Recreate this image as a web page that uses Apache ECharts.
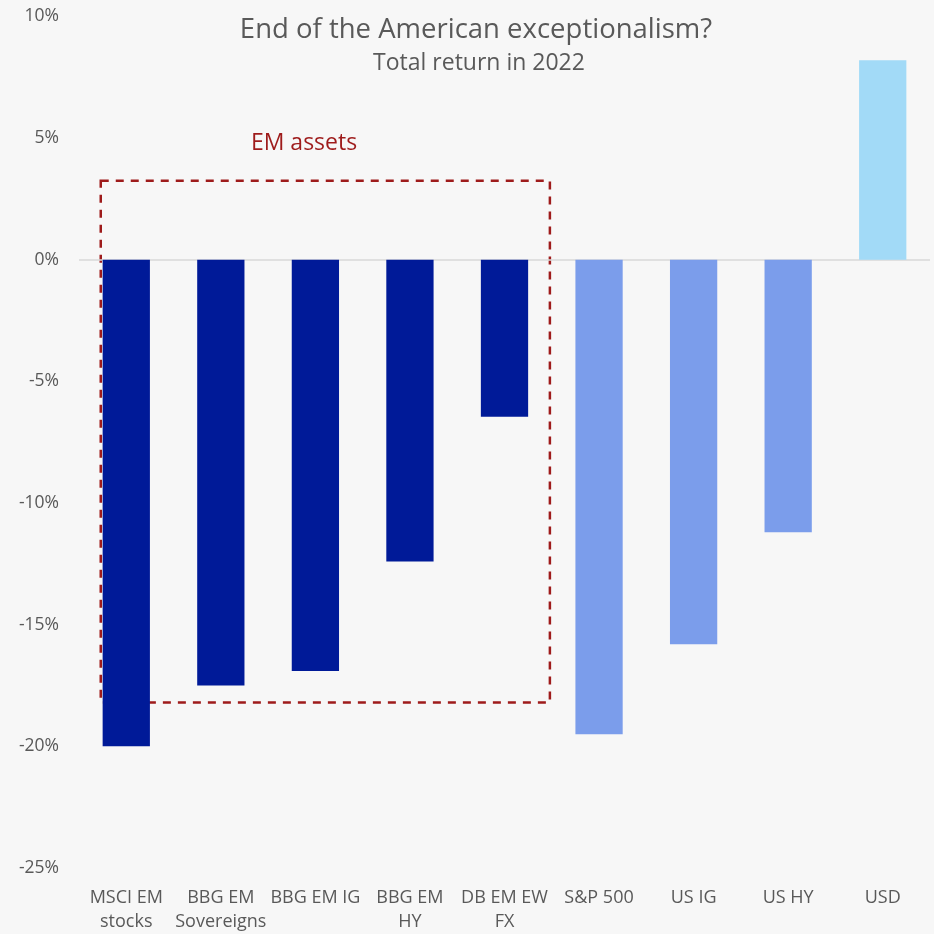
<!DOCTYPE html>
<html>
<head>
<meta charset="utf-8">
<script src="https://cdn.jsdelivr.net/npm/echarts@6/dist/echarts.min.js"></script>
<style>
  html, body { margin: 0; padding: 0; background: #f7f7f7; }
  #main { width: 934px; height: 934px; }
</style>
</head>
<body>
<div id="main"></div>
<script>
var categories = ['MSCI EM\nstocks', 'BBG EM\nSovereigns', 'BBG EM IG', 'BBG EM\nHY', 'DB EM EW\nFX', 'S&P 500', 'US IG', 'US HY', 'USD'];
var returns2022 = [-20.0, -17.5, -16.9, -12.4, -6.45, -19.5, -15.8, -11.2, 8.2];
var groups = ['em', 'em', 'em', 'em', 'em', 'us', 'us', 'us', 'usd'];
var yTicks = [-25, 10, 5]; // min, max, step

var groupColors = { em: '#001a98', us: '#7b9deb', usd: '#a2daf7' };
var textColor = '#595959';
var boxColor = '#9e1b1b';
var font = '"Open Sans", "Liberation Sans", sans-serif';

var dom = document.getElementById('main');
var myChart = echarts.init(dom, null, { width: 934, height: 934, renderer: 'canvas' });

var option = {
  backgroundColor: '#f7f7f7',
  animation: false,
  textStyle: { fontFamily: font },
  grid: { left: 79, right: 4, top: 16.5, bottom: 65, containLabel: false },
  xAxis: {
    type: 'category',
    data: categories,
    axisLine: { show: false, onZero: false },
    axisTick: { show: false },
    splitLine: { show: false },
    axisLabel: {
      color: textColor, fontSize: 18, lineHeight: 24, margin: 18,
      interval: 0, fontFamily: font
    }
  },
  yAxis: {
    type: 'value',
    min: yTicks[0], max: yTicks[1], interval: yTicks[2],
    axisLine: { show: false },
    axisTick: { show: false },
    splitLine: { show: false },
    axisLabel: {
      color: textColor, fontSize: 17.5, margin: 20, fontFamily: font,
      formatter: '{value}%'
    }
  },
  series: [{
    type: 'bar',
    barWidth: '50%',
    z: 3,
    data: returns2022.map(function (v, i) {
      return { value: v, itemStyle: { color: groupColors[groups[i]] } };
    }),
    markLine: {
      silent: true,
      symbol: 'none',
      label: { show: false },
      lineStyle: { color: '#d9d9d9', width: 1.5, type: 'solid' },
      z: 1,
      data: [{ yAxis: 0 }]
    }
  }]
};

myChart.setOption(option);

// annotation box around the EM assets, placed from axis coordinates
function drawAnnotations() {
  var c0 = myChart.convertToPixel({ xAxisIndex: 0 }, 0);
  var c1 = myChart.convertToPixel({ xAxisIndex: 0 }, 1);
  var c2 = myChart.convertToPixel({ xAxisIndex: 0 }, 2);
  var c4 = myChart.convertToPixel({ xAxisIndex: 0 }, 4);
  var band = c1 - c0;
  var yTop = myChart.convertToPixel({ yAxisIndex: 0 }, 3.25);
  var yBot = myChart.convertToPixel({ yAxisIndex: 0 }, -18.2);
  var yLbl = myChart.convertToPixel({ yAxisIndex: 0 }, 4.8);
  var x0 = c0 - 0.27 * band;
  var x1 = c4 + 0.48 * band;

  myChart.setOption({
    graphic: [
      {
        type: 'text', x: 476, y: 30, z: 10,
        style: {
          text: 'End of the American exceptionalism?', fill: textColor,
          font: '27.5px ' + font, textAlign: 'center', textVerticalAlign: 'middle'
        }
      },
      {
        type: 'text', x: 479, y: 63, z: 10,
        style: {
          text: 'Total return in 2022', fill: textColor,
          font: '23px ' + font, textAlign: 'center', textVerticalAlign: 'middle'
        }
      },
      {
        type: 'rect', z: 0,
        shape: { x: x0, y: yTop, width: x1 - x0, height: yBot - yTop },
        style: { fill: 'none', stroke: boxColor, lineWidth: 2.5, lineDash: [8, 7] }
      },
      {
        type: 'text', x: c2 - 0.12 * band, y: yLbl, z: 10,
        style: {
          text: 'EM assets', fill: boxColor,
          font: '23px ' + font, textAlign: 'center', textVerticalAlign: 'middle'
        }
      }
    ]
  });
}
drawAnnotations();
</script>
</body>
</html>
